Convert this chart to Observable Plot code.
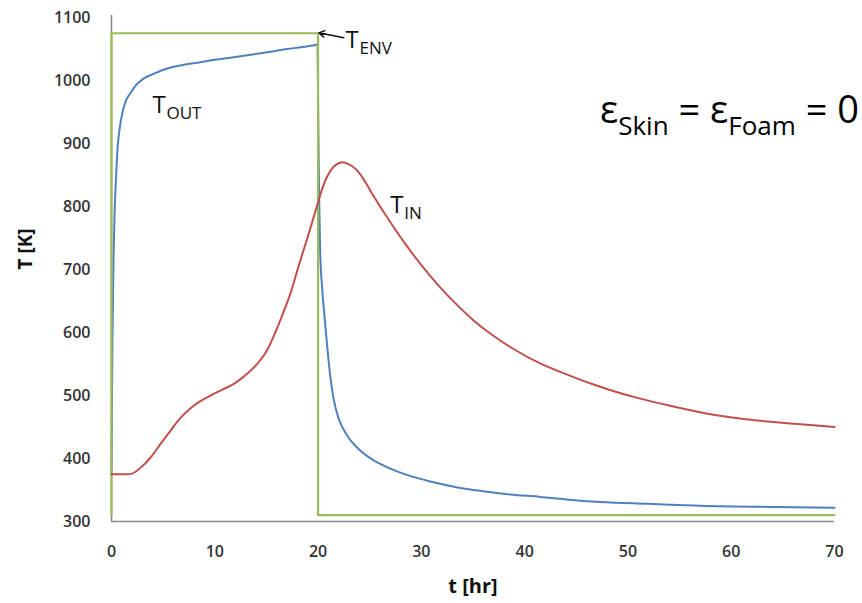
<!DOCTYPE html>
<html>
<head>
<meta charset="utf-8">
<script src="https://cdn.jsdelivr.net/npm/d3@7"></script>
<script src="https://cdn.jsdelivr.net/npm/@observablehq/plot@0.6"></script>
<style>
  html, body { margin: 0; padding: 0; background: #fff; }
  #chart { position: relative; width: 862px; height: 603px; }
</style>
</head>
<body>
<div id="chart"></div>
<script>
// ---- data ----
const xTicks = [0, 10, 20, 30, 40, 50, 60, 70];
const yTicks = [300, 400, 500, 600, 700, 800, 900, 1000, 1100];

// T_ENV (green step)
const envTime = [0, 0, 20, 20, 70];
const envTemp = [310, 1075, 1075, 310, 310];

// T_OUT (blue)
const outTime = [0, 0.05, 0.1, 0.2, 0.3, 0.45, 0.6, 0.8, 1.1, 1.4, 1.8, 2.4, 3.1, 4.0, 5.4, 7, 8.6, 10, 11.8, 13.5, 15.1, 17, 18.5, 19.6, 19.95,
  20.0, 20.1, 20.2, 20.4, 20.6, 20.9, 21.2, 21.5, 22.0, 22.8, 24, 25.4, 27, 28.6, 31, 33.5, 36, 38.6, 41.5, 44, 47.3, 52, 57, 64, 70];
const outTemp = [375, 500, 600, 720, 790, 850, 895, 925, 952, 968, 979, 993, 1003, 1010, 1019, 1025, 1029, 1033, 1037, 1041, 1045, 1050, 1053, 1056, 1057,
  960, 820, 730, 670, 630, 575, 528, 495, 463, 437, 414, 397, 384, 374, 363, 354, 348, 343, 339, 335, 331, 328, 325, 323, 322];

// T_IN (red)
const inTime = [0, 1, 2, 3, 3.8, 4.7, 5.7, 6.6, 7.6, 8.6, 9.6, 10.7, 11.8, 12.8, 13.7, 14.5, 15.1, 15.7, 16.5, 17.3, 18, 18.6, 19.3, 19.9,
  20.4, 20.9, 21.5, 22.2, 23, 23.8, 24.6, 25.4, 27, 28.6, 30.2, 31.8, 33.5, 35, 36.7, 39, 41.5, 44, 46.4, 48.8, 51.2, 54, 57.7, 61, 64.1, 67, 70];
const inTemp = [375, 375, 376, 388, 402, 422, 444, 463, 479, 491, 500, 509, 518, 530, 543, 558, 573, 594, 626, 661, 699, 731, 768, 801,
  828, 848, 863, 870, 867, 857, 838, 816, 775, 737, 703, 672, 643, 620, 598, 573, 551, 534, 519, 506, 495, 484, 471, 463, 458, 454, 450];

// series labels (main letter + subscript), anchored in data units
const labelMain = ["T", "T", "T"];
const labelSub = ["OUT", "IN", "ENV"];
const labelTime = [3.97, 27.0, 22.65];
const labelTemp = [949, 790, 1052];

// arrow pointing at T_ENV corner
const arrowFrom = [22.49, 1067.8];
const arrowTo = [20.07, 1075.7];

// ---- build tables ----
const env = envTime.map((t, i) => ({t, T: envTemp[i]}));
const out = outTime.map((t, i) => ({t, T: outTemp[i]}));
const tin = inTime.map((t, i) => ({t, T: inTemp[i]}));
const labels = labelMain.map((m, i) => ({main: m, sub: labelSub[i], t: labelTime[i], T: labelTemp[i]}));

const FONT = "'Open Sans', 'DejaVu Sans', sans-serif";

const plot = Plot.plot({
  width: 862,
  height: 603,
  marginLeft: 111,
  marginRight: 28,
  marginTop: 17,
  marginBottom: 82,
  style: {fontFamily: FONT, background: "#fff"},
  x: {domain: [0, 70]},
  y: {domain: [300, 1100]},
  marks: [
    Plot.axisY({ticks: yTicks, tickFormat: d => String(d), tickSize: 0, tickPadding: 21, label: null, fontSize: 16, fill: "#333", fontWeight: 600}),
    Plot.axisX({ticks: xTicks, tickFormat: d => String(d), tickSize: 0, tickPadding: 24, label: null, fontSize: 16, fill: "#333", fontWeight: 600}),
    Plot.ruleX([0], {y1: 300, y2: 1103, stroke: "#868686", strokeWidth: 1.5}),
    Plot.ruleY([300], {x1: 0, x2: 70, stroke: "#868686", strokeWidth: 1.5}),
    Plot.line(out, {x: "t", y: "T", stroke: "#4f81bd", strokeWidth: 2, curve: "monotone-x"}),
    Plot.line(env, {x: "t", y: "T", stroke: "#9bbb59", strokeWidth: 2.2}),
    Plot.line(tin, {x: "t", y: "T", stroke: "#c0504d", strokeWidth: 2, curve: "catmull-rom"}),
    Plot.arrow([{x1: arrowFrom[0], y1: arrowFrom[1], x2: arrowTo[0], y2: arrowTo[1]}],
      {x1: "x1", y1: "y1", x2: "x2", y2: "y2", stroke: "#111", strokeWidth: 1.4, headLength: 7, insetEnd: 0}),
    Plot.text(labels, {x: "t", y: "T", text: "main", fontSize: 24, textAnchor: "start", lineAnchor: "bottom", fill: "#111"}),
    Plot.text(labels, {x: "t", y: "T", text: "sub", fontSize: 17, dx: 14, dy: 6, textAnchor: "start", lineAnchor: "bottom", fill: "#111"}),
    Plot.text(["T [K]"], {frameAnchor: "left", dx: -86, rotate: -90, fontSize: 19, fontWeight: "bold", fill: "#111"}),
    Plot.text(["t [hr]"], {frameAnchor: "bottom", dy: 71, fontSize: 20, fontWeight: "bold", fill: "#111"})
  ]
});

// equation annotation (top right)
const svg = d3.select(plot);
const eq = svg.append("text")
  .attr("x", 859).attr("y", 123)
  .attr("text-anchor", "end")
  .attr("font-family", FONT)
  .attr("font-size", 38)
  .attr("fill", "#000")
  .style("white-space", "pre");
eq.append("tspan").text("ε");
eq.append("tspan").attr("font-size", 26).attr("dy", 12).text("Skin");
eq.append("tspan").attr("dy", -12).text(" = ε");
eq.append("tspan").attr("font-size", 26).attr("dy", 12).text("Foam");
eq.append("tspan").attr("dy", -12).text(" = 0");

document.getElementById("chart").appendChild(plot);
</script>
</body>
</html>
